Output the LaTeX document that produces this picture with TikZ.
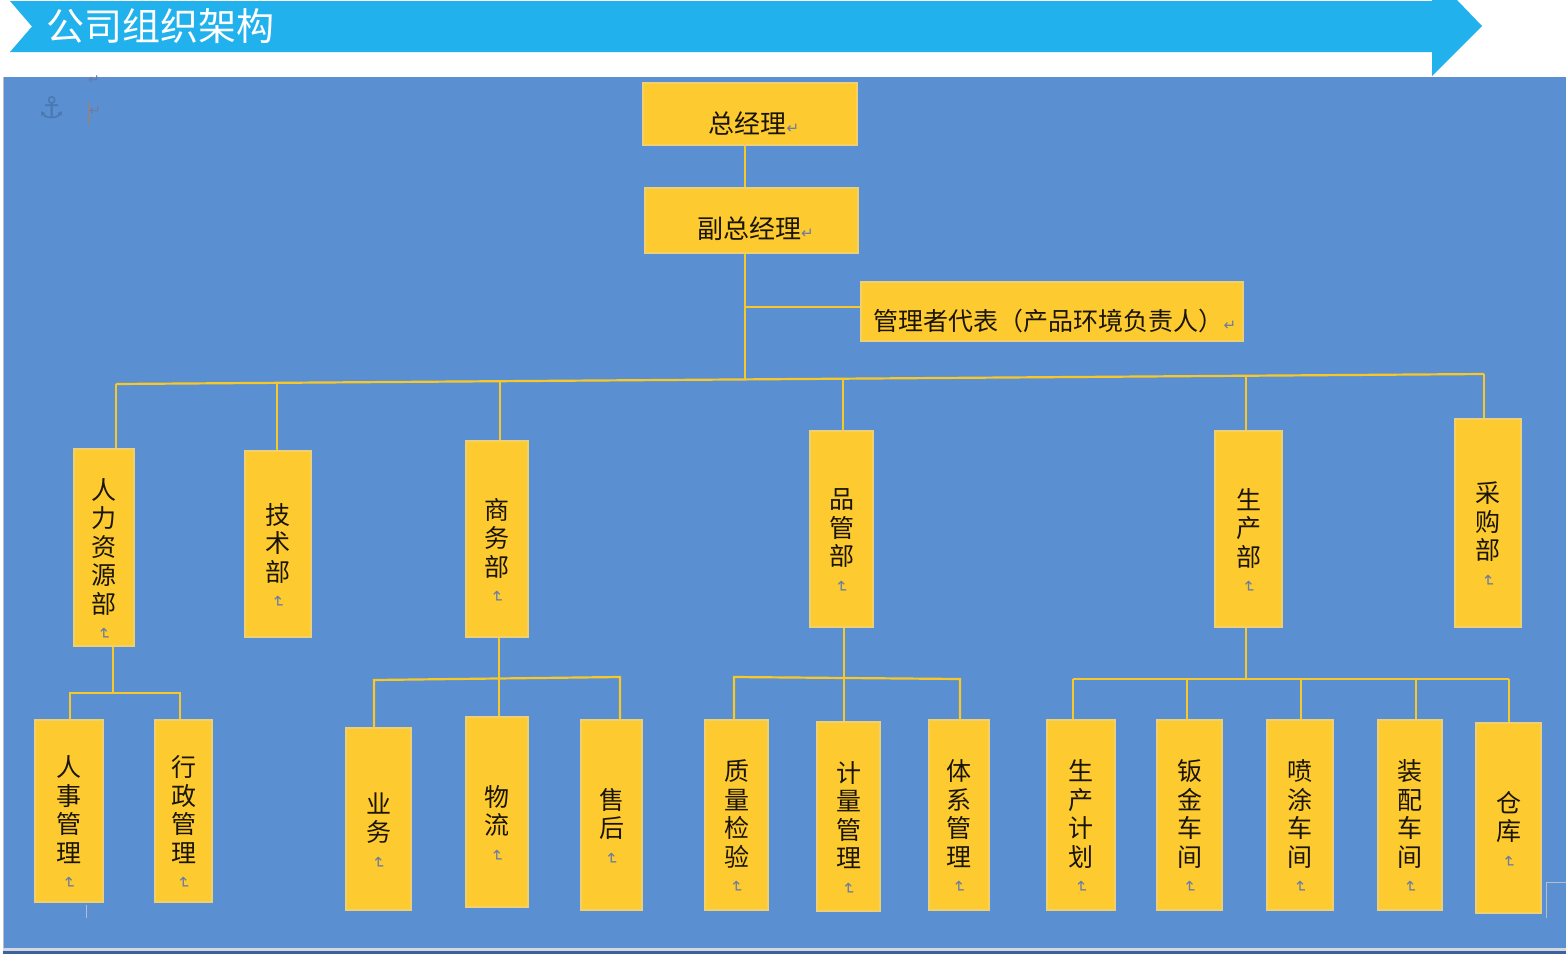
\documentclass[tikz,border=0pt]{standalone}
\usepackage{fontspec}
\usepackage{graphicx}
\newfontfamily\cjk{Noto Sans CJK SC}
\newfontfamily\dejavu{DejaVu Sans}
\definecolor{bgblue}{HTML}{5A8FD1}
\definecolor{boxy}{HTML}{FDCA2F}
\definecolor{boxedge}{HTML}{EFD070}
\definecolor{liney}{HTML}{F7C828}
\definecolor{headc}{HTML}{21B2EE}
\definecolor{markc}{HTML}{6A7BA6}
\definecolor{txt}{HTML}{1A1508}
\definecolor{anchorc}{HTML}{4A78B0}
\definecolor{edgegray}{HTML}{B8BEC8}
\definecolor{darkband}{HTML}{3A62A0}
\newcommand{\retv}{{\dejavu\fontsize{16}{16}\selectfont\textcolor{markc}{\rotatebox{-90}{↵}}}}
\newcommand{\reth}{{\dejavu\fontsize{15}{15}\selectfont\textcolor{markc}{↵}}}
\newcommand{\orgbox}[7]{%
  \pgfmathsetmacro\obw{#4-#2}\pgfmathsetmacro\obh{#5-#3}%
  \pgfmathsetmacro\obx{(#2+#4)/2}\pgfmathsetmacro\oby{(#3+#5)/2}%
  \node[ybox, minimum width=\obw pt, minimum height=\obh pt] (#1) at (\obx,\oby) {};
  \node[vtext] (#1t) at ([yshift=#6]#1.center) {#7};}
\tikzset{
  ybox/.style={fill=boxy, draw=boxedge, line width=1.2pt, inner sep=0pt},
  vtext/.style={inner sep=0pt, align=center, text=txt, font=\cjk\fontsize{25}{28.5}\selectfont},
  htext/.style={inner sep=0pt, text=txt, font=\cjk\fontsize{26}{30}\selectfont},
  conn/.style={draw=liney, line width=2.2pt},
}
\begin{document}
\begin{tikzpicture}[x=1pt,y=-1pt]
\useasboundingbox (0,0) rectangle (1566,954);
\fill[white] (0,0) rectangle (1566,954);
% header banner
\fill[headc] (10,1) -- (1432,1) -- (1432,0) -- (1457,0) -- (1482,26) -- (1432,76)
  -- (1432,52) -- (10,52) -- (32,26.5) -- cycle;
\node[anchor=west, inner sep=0pt, text=white, font=\cjk\fontsize{38}{40}\selectfont] (title) at (46,26) {公司组织架构};
% canvas
\fill[bgblue] (3,77) rectangle (1566,948);
\draw[edgegray, line width=1.2pt] (3.5,77) -- (3.5,948);
\fill[edgegray!60!white] (3,948) rectangle (1566,951);
\fill[darkband] (3,951) rectangle (1566,954);
\draw[edgegray, line width=1pt] (1566,882) -- (1546,882) -- (1546,918);
\draw[edgegray, line width=1pt] (86,905) -- (86,918);
% word artefacts
\node[inner sep=0pt, text=anchorc, font=\dejavu\fontsize{30}{30}\selectfont] (anc) at (52,108) {⚓};
\node[inner sep=0pt, font=\dejavu\fontsize{14}{14}\selectfont, text=markc] (rm1) at (94,80) {↵};
\draw[draw=brown!70!gray, line width=1.2pt] (89.5,102) -- (89.5,125);
\node[inner sep=0pt, font=\dejavu\fontsize{14}{14}\selectfont, text=markc] (rm2) at (95,111) {↵};
% top boxes
\orgbox{zjl}{643}{83}{857}{145}{0pt}{}
\orgbox{fzjl}{645}{188}{858}{253}{0pt}{}
\orgbox{dbr}{861}{282}{1243}{341}{0pt}{}
\node[htext] (zjlt) at ([xshift=4pt,yshift=-9pt]zjl.center) {总经理\reth};
\node[htext] (fzjlt) at ([xshift=4pt,yshift=-8pt]fzjl.center) {副总经理\reth};
\node[htext, font=\cjk\fontsize{25}{30}\selectfont] (dbrt) at ([xshift=3pt,yshift=-9pt]dbr.center) {管理者代表（产品环境负责人）\reth};
% level 2
\orgbox{rl}{74}{449}{134}{646}{-12pt}{人\\力\\资\\源\\部\\[-14pt]\retv}
\orgbox{js}{245}{451}{311}{637}{-12pt}{技\\术\\部\\[-14pt]\retv}
\orgbox{sw}{466}{441}{528}{637}{-12pt}{商\\务\\部\\[-14pt]\retv}
\orgbox{pg}{810}{431}{873}{627}{-12pt}{品\\管\\部\\[-14pt]\retv}
\orgbox{sc}{1215}{431}{1282}{627}{-12pt}{生\\产\\部\\[-14pt]\retv}
\orgbox{cg}{1455}{419}{1521}{627}{-12pt}{采\\购\\部\\[-14pt]\retv}
% level 3
\orgbox{rs}{35}{720}{103}{902}{-12pt}{人\\事\\管\\理\\[-14pt]\retv}
\orgbox{xz}{155}{720}{212}{902}{-12pt}{行\\政\\管\\理\\[-14pt]\retv}
\orgbox{yw}{346}{728}{411}{910}{-12pt}{业\\务\\[-14pt]\retv}
\orgbox{wl}{466}{717}{528}{907}{-12pt}{物\\流\\[-14pt]\retv}
\orgbox{sh}{581}{720}{642}{910}{-12pt}{售\\后\\[-14pt]\retv}
\orgbox{zl}{705}{720}{768}{910}{-12pt}{质\\量\\检\\验\\[-14pt]\retv}
\orgbox{jl}{817}{722}{880}{911}{-12pt}{计\\量\\管\\理\\[-14pt]\retv}
\orgbox{tx}{929}{720}{989}{910}{-12pt}{体\\系\\管\\理\\[-14pt]\retv}
\orgbox{jh}{1047}{720}{1115}{910}{-12pt}{生\\产\\计\\划\\[-14pt]\retv}
\orgbox{bj}{1157}{720}{1222}{910}{-12pt}{钣\\金\\车\\间\\[-14pt]\retv}
\orgbox{pt}{1267}{720}{1333}{910}{-12pt}{喷\\涂\\车\\间\\[-14pt]\retv}
\orgbox{zp}{1378}{720}{1442}{910}{-12pt}{装\\配\\车\\间\\[-14pt]\retv}
\orgbox{ck}{1476}{723}{1541}{913}{-12pt}{仓\\库\\[-14pt]\retv}
% main stem and bus
\coordinate (b1) at (116,384);
\coordinate (b2) at (277,382.8);
\coordinate (b3) at (500,381.2);
\coordinate (b0) at (745,379.4);
\coordinate (b4) at (843,378.7);
\coordinate (b5) at (1246,375.7);
\coordinate (b6) at (1484,374);
\coordinate (br) at (745,307);
\draw[conn] (b0 |- zjl.south) -- (b0 |- fzjl.north);
\draw[conn] (b0 |- fzjl.south) -- (b0);
\draw[conn] (br) -- (br -| dbr.west);
\draw[conn] (b1) -- (b6);
\draw[conn] (b1) -- (b1 |- rl.north);
\draw[conn] (b2) -- (b2 |- js.north);
\draw[conn] (b3) -- (b3 |- sw.north);
\draw[conn] (b4) -- (b4 |- pg.north);
\draw[conn] (b5) -- (b5 |- sc.north);
\draw[conn] (b6) -- (b6 |- cg.north);
% HR branch
\coordinate (h1) at (113,693);
\coordinate (h1a) at (70,693);
\coordinate (h1b) at (180,693);
\draw[conn] (h1 |- rl.south) -- (h1);
\draw[conn] (h1a |- rs.north) -- (h1a) -- (h1b) -- (h1b |- xz.north);
% commerce branch
\coordinate (h2) at (499,679);
\coordinate (h2a) at (374,680);
\coordinate (h2b) at (620,677);
\draw[conn] (h2 |- sw.south) -- (h2 |- wl.north);
\draw[conn] (h2a |- yw.north) -- (h2a) -- (h2b) -- (h2b |- sh.north);
% quality branch
\coordinate (h3) at (844,678);
\coordinate (h3a) at (734,677);
\coordinate (h3b) at (960,679);
\draw[conn] (h3 |- pg.south) -- (h3 |- jl.north);
\draw[conn] (h3a |- zl.north) -- (h3a) -- (h3b) -- (h3b |- tx.north);
% production branch
\coordinate (h4) at (1246,679);
\coordinate (h4a) at (1073,679);
\coordinate (h4b) at (1187,679);
\coordinate (h4c) at (1301,679);
\coordinate (h4d) at (1416,679);
\coordinate (h4e) at (1509,679);
\draw[conn] (h4 |- sc.south) -- (h4);
\draw[conn] (h4a) -- (h4e);
\draw[conn] (h4a) -- (h4a |- jh.north);
\draw[conn] (h4b) -- (h4b |- bj.north);
\draw[conn] (h4c) -- (h4c |- pt.north);
\draw[conn] (h4d) -- (h4d |- zp.north);
\draw[conn] (h4e) -- (h4e |- ck.north);
\end{tikzpicture}
\end{document}
